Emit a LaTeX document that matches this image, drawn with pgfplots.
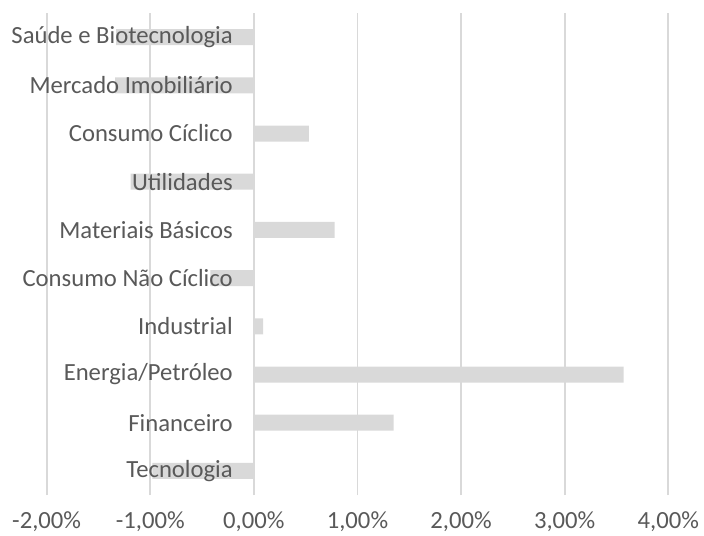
\documentclass[border=0pt]{standalone}
\usepackage{pgfplots}
\pgfplotsset{compat=1.18}
\usepackage{fontspec}
\setmainfont{Carlito}
\definecolor{bargray}{HTML}{D9D9D9}
\definecolor{gridgray}{HTML}{D9D9D9}
\definecolor{txtgray}{HTML}{595959}
\begin{document}
\begin{tikzpicture}
\begin{axis}[
    axis on top, % labels over the bars; grid has the bar colour anyway
    scale only axis,
    width=466.2pt, height=361.5pt,
    xbar, bar width=12pt,
    xmin=-2, xmax=4,
    ymin=-0.5, ymax=9.5,
    xtick={-2,-1,0,1,2,3,4},
    ytick={0,...,9},
    yticklabels={Tecnologia, Financeiro, Energia/Petróleo, Industrial,
        Consumo Não Cíclico, Materiais Básicos, Utilidades, Consumo Cíclico,
        Mercado Imobiliário, Saúde e Biotecnologia},
    xticklabel={\pgfmathprintnumber[fixed,fixed zerofill,precision=2,use comma]{\tick}\%},
    /pgf/number format/assume math mode=true,
    xmajorgrids=true,
    grid style={gridgray, line width=1.4pt},
    axis line style={draw=none},
    tick style={draw=none},
    tick label style={font=\fontsize{18.5}{22}\selectfont, text=txtgray},
    yticklabel style={anchor=east, inner sep=0pt, xshift=144pt},
    xticklabel style={anchor=center, inner sep=0pt, yshift=-20pt},
]
\addplot[fill=bargray, draw=none] coordinates {
    (-0.98,0) (1.35,1) (3.57,2) (0.09,3) (-0.42,4)
    (0.78,5) (-1.19,6) (0.53,7) (-1.34,8) (-1.33,9)
};
\end{axis}
\pgfresetboundingbox
\path (-35pt,-30.75pt) rectangle (493pt,371.25pt);
\end{tikzpicture}
\end{document}
